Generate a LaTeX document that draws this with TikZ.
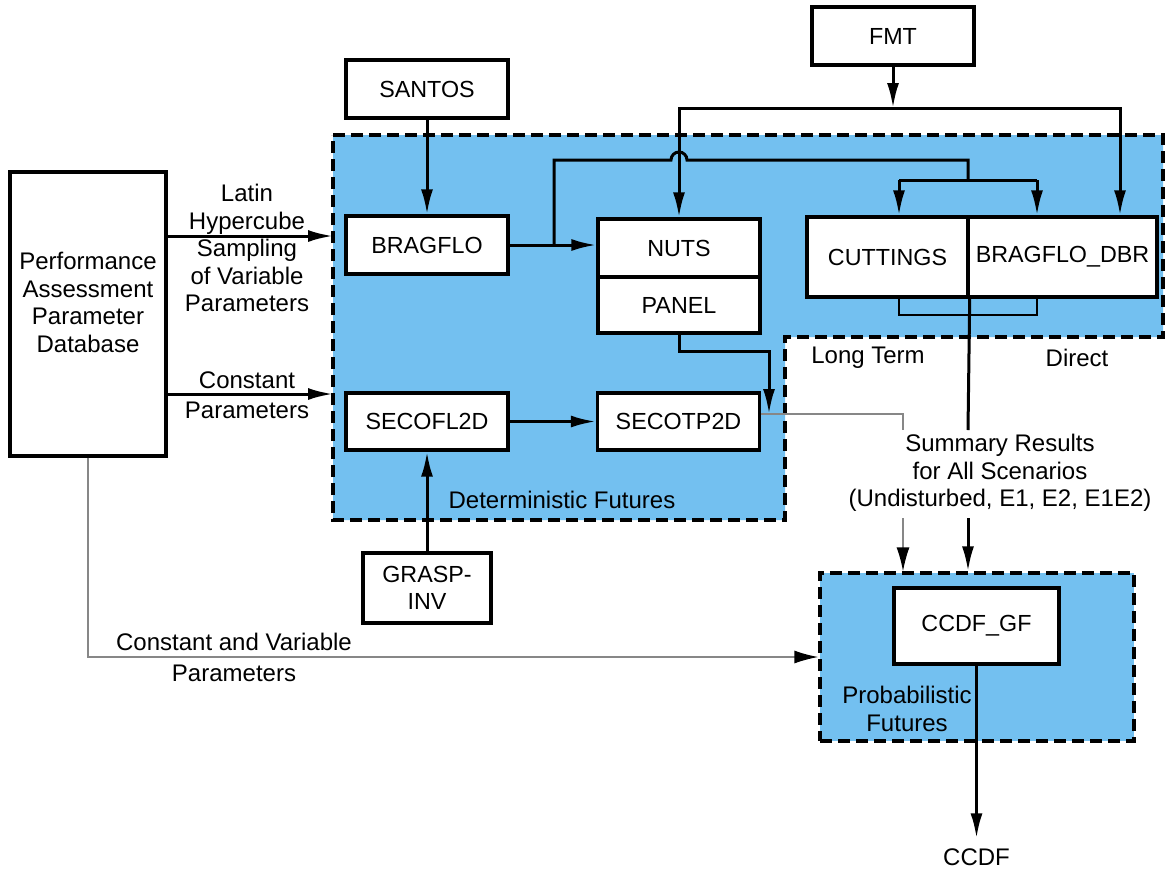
\documentclass[tikz,border=0pt]{standalone}
\usepackage{fontspec}
\setmainfont{Liberation Sans}
\usetikzlibrary{arrows.meta}
\definecolor{futblue}{RGB}{115,192,240}
\definecolor{wiregray}{RGB}{135,135,135}

\begin{document}
\begin{tikzpicture}[x=1pt,y=-1pt,
  every node/.style={font=\fontsize{24}{27.5}\selectfont, inner sep=0pt},
  box/.style={draw, line width=3.4pt, fill=white, inner sep=4pt, font=\fontsize{23.3}{27.5}\selectfont},
  region/.style={fill=futblue, draw=black, line width=3.2pt, dash pattern=on 12pt off 6pt},
  conn/.style={line width=3pt},
  arr/.style={conn, -{Latex[length=25pt,width=12pt]}},
  gconn/.style={line width=1.6pt, draw=wiregray},
  garr/.style={gconn, -{Latex[length=24pt,width=13pt,color=black]}},
  lbl/.style={align=center}
]
\useasboundingbox (0,0) rectangle (1167,873);

% shaded groups
\path[region] (333,135) -- (1163,135) -- (1163,337) -- (785,337) -- (785,520) -- (333,520) -- cycle;
\node[region, minimum width=314pt, minimum height=168pt] (prob) at (977,657) {};

% program boxes
\node[box, minimum width=156pt, minimum height=284pt] (papd) at (88,314) {};
\node[box, minimum width=162pt, minimum height=58pt] (santos) at (427,89) {SANTOS};
\node[box, minimum width=162pt, minimum height=58pt] (fmt) at (893,36) {FMT};
\node[box, minimum width=162pt, minimum height=58pt] (bragflo) at (427,245) {BRAGFLO};
\node[box, minimum width=162pt, minimum height=58pt] (nuts) at (679,248) {NUTS};
\node[box, minimum width=162pt, minimum height=56pt] (panel) at (679,305) {PANEL};
\node[box, minimum width=161pt, minimum height=80pt] (cuttings) at (887.5,257) {CUTTINGS};
\node[box, minimum width=189pt, minimum height=80pt] (dbr) at (1062.5,257) {BRAGFLO\_DBR};
\node[box, minimum width=162pt, minimum height=57pt] (secofl) at (427,421.5) {SECOFL2D};
\node[box, minimum width=162pt, minimum height=57pt] (secotp) at (678.5,421.5) {SECOTP2D};
\node[box, minimum width=128pt, minimum height=70pt, align=center] (grasp) at (427,588) {GRASP-\\INV};
\node[box, minimum width=165pt, minimum height=76pt] (ccdfgf) at (976.5,626) {CCDF\_GF};

% junction points
\coordinate (fmtbus) at (893,108);
\coordinate (fmtR) at (1120,108);
\coordinate (split) at (554,245);
\coordinate (hopL) at (671,160);
\coordinate (topbus) at (968,160);
\coordinate (cutbus) at (968,180);
\coordinate (cutin) at (899,180);
\coordinate (dbrin) at (1037,180);
\coordinate (lhsin) at (333,236);
\coordinate (cpin) at (333,394);
\coordinate (panelin) at (769,414);
\coordinate (gbend) at (903,414);
\coordinate (gsumtop) at (903,430);
\coordinate (gsumbot) at (903,518);
\coordinate (sumtop) at (968,430);
\coordinate (sumbot) at (968,518);

% connectors
\draw[arr] (fmt) -- (fmtbus);
\draw[arr] (fmtbus) -| (nuts.north);
\draw[arr] (fmtbus) -- (fmtR) -- (fmtR |- dbr.north);
\draw[arr] (santos) -- (bragflo);
\draw[arr] (bragflo.east) -- (nuts.west |- bragflo.east);
\draw[conn] (split) |- (hopL) arc[start angle=180, end angle=0, radius=8pt] -- (topbus) -- (cutbus);
\draw[conn] (cutin) -- (dbrin);
\draw[arr] (cutin) -- (cutin |- cuttings.north);
\draw[arr] (dbrin) -- (dbrin |- dbr.north);
\draw[line width=2.2pt] (cutin |- cuttings.south) -- ++(0,16) -| (dbrin |- dbr.south);
\draw[conn] (cuttings.south east) -- (sumtop);
\draw[arr] (sumbot) -- (sumbot |- prob.north);
\draw[arr] (panel.south) -- ++(0,17) -| (panelin);
\draw[gconn] (secotp.east |- panelin) -- (gbend) -- (gsumtop);
\draw[garr] (gsumbot) -- (gsumbot |- prob.north);
\draw[arr] (secofl) -- (secotp);
\draw[arr] (grasp) -- (secofl);
\draw[arr] (papd.east |- lhsin) -- (lhsin);
\draw[arr] (papd.east |- cpin) -- (cpin);
\draw[garr] (papd.south) |- (prob.west);
\node[inner ysep=10pt] (ccdf) at (976.5,857) {CCDF};
\draw[arr] (ccdfgf.south) -- (ccdf.north);

% labels
\node[lbl] (papdtxt) at (88,302.5) {Performance\\Assessment\\Parameter\\Database};
\node[lbl] (lhslbl) at (247,248) {Latin\\Hypercube\\Sampling\\of Variable\\Parameters};
\node[lbl, font=\fontsize{24}{30}\selectfont] (cplbl) at (247,395) {Constant\\Parameters};
\node[lbl, font=\fontsize{24}{31}\selectfont] (cvlbl) at (234,657) {Constant and Variable\\Parameters};
\node (detlbl) at (562,500) {Deterministic Futures};
\node (ltlbl) at (868,358) {Long Term};
\node (dirlbl) at (1077,358) {Direct};
\node[lbl] (sumlbl) at (1000,473) {Summary Results\\for All Scenarios\\(Undisturbed, E1, E2, E1E2)};
\node[lbl, font=\fontsize{24}{28}\selectfont] (problbl) at (907,709) {Probabilistic\\Futures};
\end{tikzpicture}
\end{document}
